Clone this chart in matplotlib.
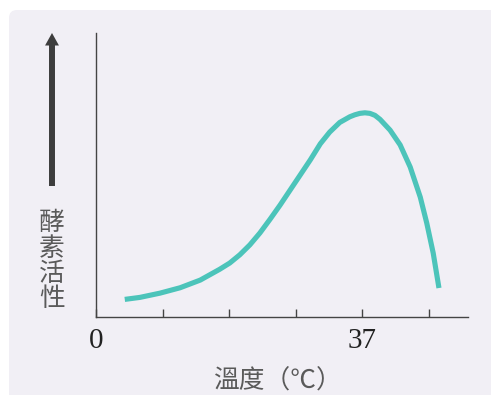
import numpy as np
import matplotlib.pyplot as plt
from matplotlib.patches import FancyBboxPatch, FancyArrowPatch

# temperature (deg C) and enzyme activity
temp = [4.0, 6.1, 8.9, 11.7, 14.5, 17.2, 18.6, 20.0, 21.4, 22.8, 24.2, 25.6,
        27.0, 28.4, 29.8, 31.2, 32.5, 33.9, 35.3, 36.0, 36.7, 37.4, 38.1,
        38.8, 39.5, 40.9, 42.3, 43.7, 45.1, 46.0, 46.9, 47.7]
activity = [6.2, 6.9, 8.4, 10.3, 13.0, 16.8, 19.0, 21.9, 25.4, 29.6, 34.4, 39.4,
            44.7, 50.0, 55.3, 61.0, 65.1, 68.5, 70.5, 71.2, 71.7, 71.9, 71.7,
            71.0, 69.6, 65.8, 60.6, 52.8, 42.2, 33.1, 22.5, 10.2]

tick_pos = [0, 9.25, 18.5, 27.75, 37, 46.25]
tick_labels = ['0', '', '', '', '37', '']
xlabel = '溫度（℃）'
ylabel = '酵素活性'

W, H = 491, 395
fig = plt.figure(figsize=(W / 100, H / 100), dpi=100, facecolor='white')

# rounded light panel behind everything
panel = FancyBboxPatch((9, -20), 520, 395 - 10 + 20,
                       boxstyle='round,pad=0,rounding_size=8',
                       transform=None, facecolor='#f1eff5', edgecolor='none', zorder=-5)
fig.patches.append(panel)

ax = fig.add_axes([96 / W, (H - 317) / H, (468 - 96) / W, (317 - 33) / H])
ax.set_facecolor('none')
ax.plot(temp, activity, color='#4cc4ba', lw=3.7, solid_capstyle='butt',
        solid_joinstyle='round')
ax.set_xlim(0, 372 / 7.19)
ax.set_ylim(0, 100)

for s in ['top', 'right']:
    ax.spines[s].set_visible(False)
for s in ['left', 'bottom']:
    ax.spines[s].set_color('#444444')
    ax.spines[s].set_linewidth(1.0)

ax.set_yticks([])
ax.set_xticks(tick_pos)
ax.set_xticklabels(tick_labels, fontfamily='Liberation Serif', fontsize=21, color='#222222')
ax.tick_params(axis='x', direction='in', length=6, width=1.0, color='#444444', pad=8)

cjk = ['Noto Sans CJK TC', 'DejaVu Sans']
fig.text(278 / W, 1 - 389 / H, xlabel, family=cjk, fontsize=18.5, color='#5a5a5a',
         ha='center', va='baseline')
for i, ch in enumerate(ylabel):
    fig.text(52 / W, 1 - (223 + 25.5 * i) / H, ch, family=cjk, fontsize=18.5,
             color='#5a5a5a', ha='center', va='center')

arrow = FancyArrowPatch((52, H - 186), (52, H - 33),
                        arrowstyle='simple,head_width=10,head_length=9,tail_width=4.3',
                        mutation_scale=1, shrinkA=0, shrinkB=0, transform=None,
                        facecolor='#3d3d3d', edgecolor='none')
fig.patches.append(arrow)

fig.savefig('out.png', dpi=100, facecolor='white')
